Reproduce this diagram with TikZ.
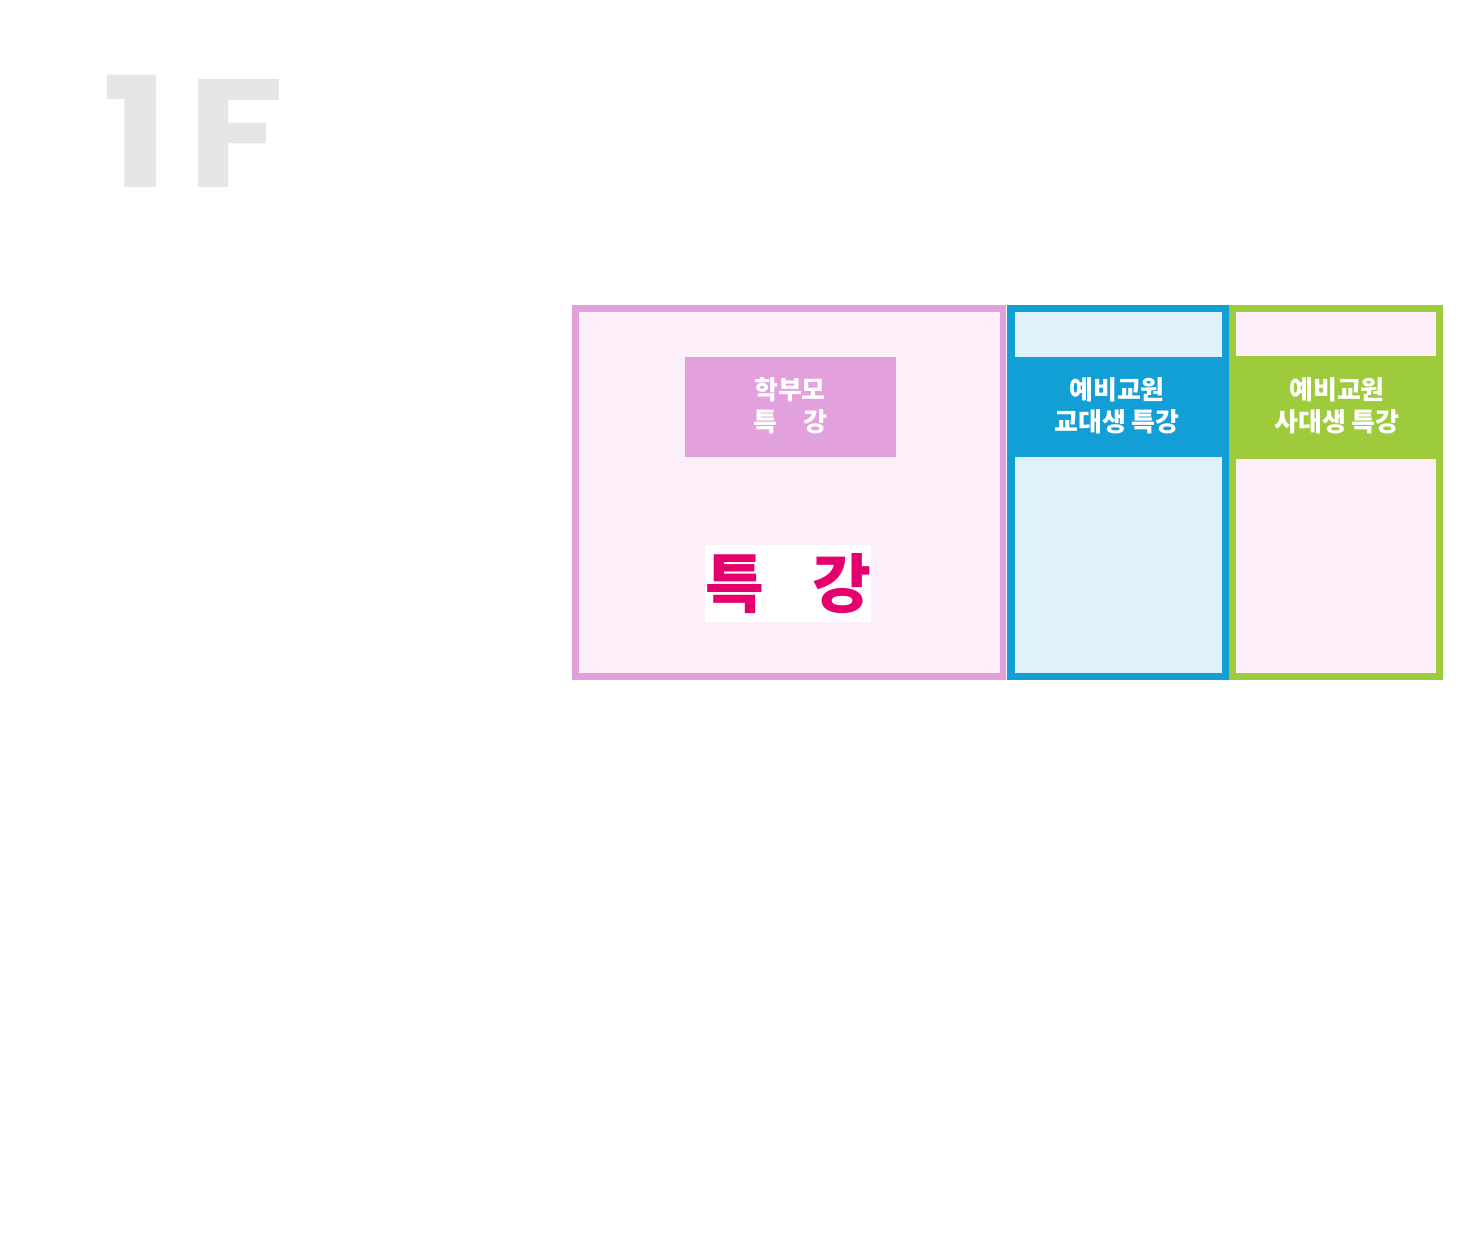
\documentclass[tikz,border=0pt]{standalone}
\usepackage{fontspec}
\setmainfont{Poppins}
\newfontfamily\kor{Noto Sans CJK KR}
\definecolor{eeaadd}{RGB}{226,160,220}
\definecolor{ffeeff}{RGB}{252,239,249}
\definecolor{qqaadd}{RGB}{17,159,213}
\definecolor{eeffff}{RGB}{224,242,249}
\definecolor{aaccqq}{RGB}{158,203,59}
\definecolor{eeqqaa}{RGB}{229,0,110}
\definecolor{eeeeee}{RGB}{230,230,230}

\begin{document}
\begin{tikzpicture}[x=0.5pt,y=-0.5pt,
  roomlabel/.style={font=\kor\bfseries\fontsize{13pt}{16pt}\selectfont,text=white,align=center,inner sep=0pt}]
\useasboundingbox (0,0) rectangle (1460,1251);
\node[anchor=base west,inner sep=0pt,text=eeeeee,xscale=1.15,font=\bfseries\fontsize{77pt}{77pt}\selectfont] (floor) at (102,188) {1\kern8pt F};
\fill[eeaadd] (572,305) rectangle (1006,680);
\fill[ffeeff] (579,312) rectangle (1000,673);
\fill[qqaadd] (1007,305) rectangle (1229,680);
\fill[eeffff] (1015,312) rectangle (1222,357);
\fill[eeffff] (1015,457) rectangle (1222,673);
\fill[aaccqq] (1229,305) rectangle (1443,680);
\fill[ffeeff] (1236,312) rectangle (1436,356);
\fill[ffeeff] (1236,459) rectangle (1436,673);
\fill[eeaadd] (685,357) rectangle (896,457);
\node[roomlabel] (hakbumo) at (790,406) {학부모\\특\hspace{1em}강};
\node[roomlabel] (gyodae) at (1117,406) {예비교원\\교대생 특강};
\node[roomlabel] (sadae) at (1337,406) {예비교원\\사대생 특강};
\node[fill=white,inner sep=0pt,minimum width=83pt,minimum height=38.5pt,text=eeqqaa,
  font=\kor\bfseries\fontsize{32pt}{32pt}\selectfont] (teukgang) at (788,583.5) {특\hspace{0.75em}강};
\end{tikzpicture}
\end{document}
